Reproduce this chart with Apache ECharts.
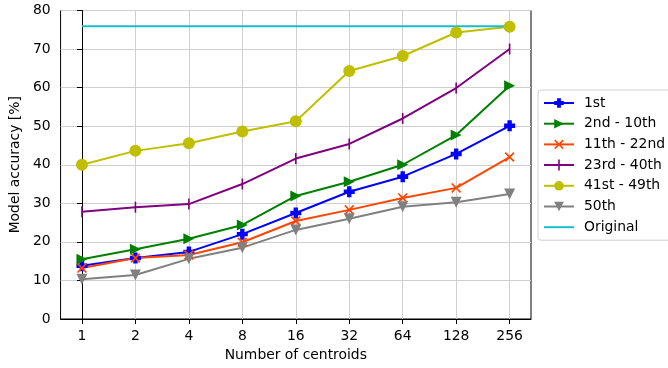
<!DOCTYPE html>
<html>
<head>
<meta charset="utf-8">
<script src="https://cdn.jsdelivr.net/npm/echarts@6/dist/echarts.min.js"></script>
<style>html,body{margin:0;padding:0;background:#fff;}#c{width:668px;height:368px;}</style>
</head>
<body>
<div id="c"></div>
<script>
const categories = ['1', '2', '4', '8', '16', '32', '64', '128', '256'];
const yTicks = [0, 10, 20, 30, 40, 50, 60, 70, 80];
const s1st = [13.8, 15.8, 17.4, 22.0, 27.5, 33.0, 36.9, 42.8, 50.1];
const s2to10 = [15.5, 18.1, 20.8, 24.4, 31.9, 35.6, 40.0, 47.7, 60.5];
const s11to22 = [13.2, 15.8, 16.6, 19.9, 25.4, 28.3, 31.4, 34.0, 42.0];
const s23to40 = [27.8, 29.0, 29.8, 35.0, 41.6, 45.4, 52.0, 59.9, 70.0];
const s41to49 = [40.0, 43.6, 45.6, 48.6, 51.3, 64.3, 68.2, 74.3, 75.8];
const s50 = [10.3, 11.4, 15.6, 18.5, 23.1, 26.0, 29.1, 30.3, 32.4];
const sOriginal = [75.9, 75.9, 75.9, 75.9, 75.9, 75.9, 75.9, 75.9, 75.9];

const toPairs = arr => arr.map((v, i) => [i, v]);
const idx = categories.map((c, i) => i);

const plusPath = 'path://M3,0L7,0L7,3L10,3L10,7L7,7L7,10L3,10L3,7L0,7L0,3L3,3Z';
const xPath = 'path://M0,1.2L1.2,0L5,3.8L8.8,0L10,1.2L6.2,5L10,8.8L8.8,10L5,6.2L1.2,10L0,8.8L3.8,5Z';
const vbarLegend = 'path://M0,5L14.2,5L14.2,0.5L15.8,0.5L15.8,5L30,5L30,7L15.8,7L15.8,11.5L14.2,11.5L14.2,7L0,7Z';
const lineLegend = 'path://M0,0L30,0L30,2L0,2Z';

function mk(name, data, color, symbol, size, rotate) {
  return {
    name: name, type: 'line', data: toPairs(data),
    symbol: symbol, symbolSize: size, symbolRotate: rotate || 0,
    showSymbol: symbol !== 'none',
    lineStyle: { color: color, width: 2 },
    itemStyle: { color: color },
    emphasis: { disabled: true },
    animation: false, z: 2
  };
}

const chart = echarts.init(document.getElementById('c'), null, { renderer: 'canvas' });
const font = 'DejaVu Sans';
const fs = 13.9;
chart.setOption({
  animation: false,
  textStyle: { fontFamily: font },
  grid: { left: 56, right: 137, top: 10.5, bottom: 49, show: true, borderColor: '#000', borderWidth: 1, backgroundColor: 'transparent' },
  xAxis: {
    type: 'value', min: -0.4, max: 8.4,
    name: 'Number of centroids', nameLocation: 'middle', nameGap: 29,
    nameTextStyle: { fontSize: fs, color: '#000', fontFamily: font },
    axisLine: { show: true, lineStyle: { color: '#000', width: 1 } },
    axisTick: { show: true, length: 5, lineStyle: { color: '#000' }, customValues: idx },
    axisLabel: { customValues: idx, margin: 10, fontSize: fs, color: '#000', fontFamily: font,
      formatter: v => categories[Math.round(v)] },
    splitLine: { show: true, lineStyle: { color: '#cfcfcf', width: 1 }, customValues: idx }
  },
  yAxis: {
    type: 'value', min: 0, max: 80, interval: 10,
    name: 'Model accuracy [%]', nameLocation: 'middle', nameGap: 33,
    nameTextStyle: { fontSize: fs, color: '#000', fontFamily: font },
    axisLine: { show: true, lineStyle: { color: '#000', width: 1 } },
    axisTick: { show: true, length: 5, lineStyle: { color: '#000' } },
    axisLabel: { margin: 10, fontSize: fs, color: '#000', fontFamily: font,
      formatter: v => (yTicks.indexOf(v) >= 0 ? String(v) : '') },
    splitLine: { show: true, lineStyle: { color: '#cfcfcf', width: 1 } }
  },
  legend: {
    orient: 'vertical', left: 538, top: 90,
    itemWidth: 30, itemHeight: 12, itemGap: 6.7,
    padding: [6, 30, 6, 5],
    backgroundColor: '#fff', borderColor: '#d0d0d0', borderWidth: 1, borderRadius: 3,
    textStyle: { fontSize: fs, color: '#000', fontFamily: font, padding: [0, 0, 0, 5] },
    data: [
      { name: '1st' },
      { name: '2nd - 10th' },
      { name: '11th - 22nd' },
      { name: '23rd - 40th', icon: vbarLegend },
      { name: '41st - 49th' },
      { name: '50th' },
      { name: 'Original', icon: lineLegend }
    ]
  },
  series: [
    mk('1st', s1st, '#0000ff', plusPath, 11),
    mk('2nd - 10th', s2to10, '#008000', 'triangle', 11, -90),
    mk('11th - 22nd', s11to22, '#ff4500', xPath, 10),
    mk('23rd - 40th', s23to40, '#800080', 'rect', [1.6, 11]),
    mk('41st - 49th', s41to49, '#bfbf00', 'circle', 12),
    mk('50th', s50, '#808080', 'triangle', 11, 180),
    mk('Original', sOriginal, '#17becf', 'none', 0)
  ]
});
</script>
</body>
</html>
